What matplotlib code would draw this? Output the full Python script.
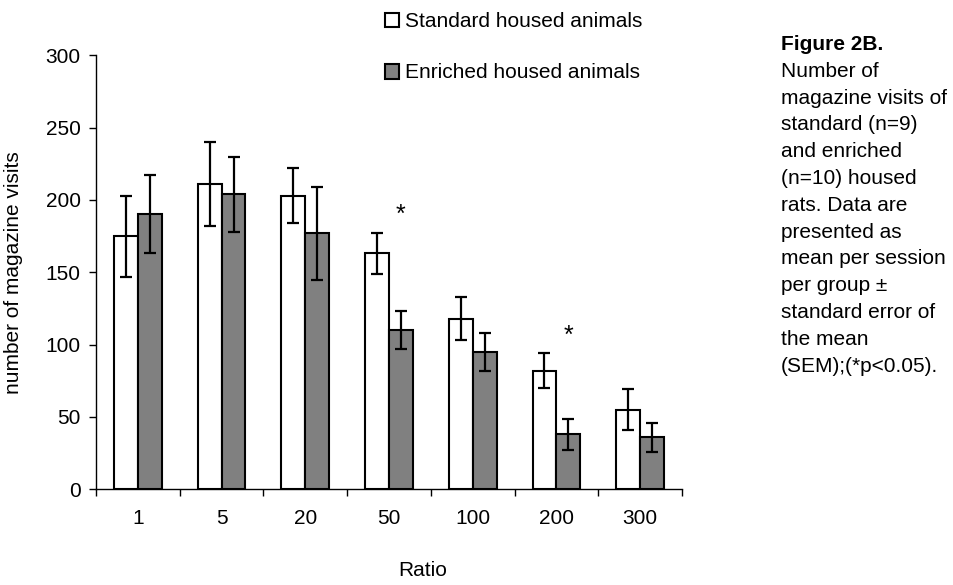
import matplotlib
matplotlib.use("Agg")
import matplotlib.pyplot as plt
from matplotlib.patches import Rectangle
import numpy as np

plt.rcParams['font.family'] = ['Liberation Sans', 'DejaVu Sans']

# Magazine visits per session, mean and SEM per housing group
ratios = ["1", "5", "20", "50", "100", "200", "300"]
standard_mean = [175, 211, 203, 163, 118, 82, 55]
standard_sem = [28, 29, 19, 14.5, 15, 12, 14]
enriched_mean = [190, 204, 177, 110, 95, 38, 36]
enriched_sem = [27, 26, 32, 13, 13, 10.5, 10]
significant = [False, False, False, True, False, True, False]

series_names = ["Standard housed animals", "Enriched housed animals"]
series_colors = ["white", "#808080"]
y_ticks = [0, 50, 100, 150, 200, 250, 300]

caption_title = "Figure 2B."
caption_lines = [
    "Number of",
    "magazine visits of",
    "standard (n=9)",
    "and enriched",
    "(n=10) housed",
    "rats. Data are",
    "presented as",
    "mean per session",
    "per group \u00b1",
    "standard error of",
    "the mean",
    "(SEM);(*p<0.05).",
]

W, H = 954, 585
fig = plt.figure(figsize=(W / 100, H / 100), dpi=100)
ax = fig.add_axes([96 / W, 1 - 489.3 / H, 586 / W, 434 / H])

fs = 15
x = np.arange(len(ratios))
w = 0.285

ax.bar(x - w / 2, standard_mean, width=w, color=series_colors[0],
       edgecolor="black", linewidth=1.5, zorder=2)
ax.bar(x + w / 2, enriched_mean, width=w, color=series_colors[1],
       edgecolor="black", linewidth=1.5, zorder=2)

ax.errorbar(x - w / 2, standard_mean, yerr=standard_sem, fmt="none",
            ecolor="black", elinewidth=1.6, capsize=4, capthick=1.6, zorder=3)
ax.errorbar(x + w / 2, enriched_mean, yerr=enriched_sem, fmt="none",
            ecolor="black", elinewidth=1.6, capsize=4, capthick=1.6, zorder=3)

# significance markers above each significant pair
for xi, m, s, sig in zip(x, standard_mean, standard_sem, significant):
    if sig:
        ax.text(xi + w / 2, m + s + 7.5, "*", ha="center", va="baseline",
                fontsize=18)

ax.set_xlim(-0.5, len(ratios) - 0.5)
ax.set_ylim(0, 300)
ax.set_yticks(y_ticks)
ax.set_yticklabels([str(t) for t in y_ticks], fontsize=fs)
ax.tick_params(axis="y", direction="out", length=5, width=1, pad=6)

ax.set_xticks(x)
ax.set_xticklabels(ratios, fontsize=fs)
ax.tick_params(axis="x", which="major", length=0, pad=14)
ax.set_xticks(np.arange(len(ratios) + 1) - 0.5, minor=True)
ax.tick_params(axis="x", which="minor", direction="out", length=5, width=1)

for side in ("top", "right"):
    ax.spines[side].set_visible(False)
for side in ("left", "bottom"):
    ax.spines[side].set_linewidth(1)

ax.set_ylabel("number of magazine visits", fontsize=fs)
ax.yaxis.set_label_coords((23 - 96) / 586, 0.5)
fig.text(423 / W, 1 - 570 / H, "Ratio", ha="center", va="center", fontsize=fs)

# legend keys and labels
for i, (name, col) in enumerate(zip(series_names, series_colors)):
    top = 13 + i * 51.5
    fig.patches.append(Rectangle((385 / W, 1 - (top + 14) / H), 14 / W, 14 / H,
                                 transform=fig.transFigure, facecolor=col,
                                 edgecolor="black", linewidth=1.5))
    fig.text(405 / W, 1 - (27 + i * 51.5) / H, name, ha="left",
             va="baseline", fontsize=fs)

# caption
fig.text(781 / W, 1 - 50 / H, caption_title, ha="left", va="baseline",
         fontsize=fs, fontweight="bold")
for i, line in enumerate(caption_lines):
    fig.text(781 / W, 1 - (50 + (i + 1) * 26.8) / H, line, ha="left",
             va="baseline", fontsize=fs)

fig.savefig("out.png", dpi=100)
